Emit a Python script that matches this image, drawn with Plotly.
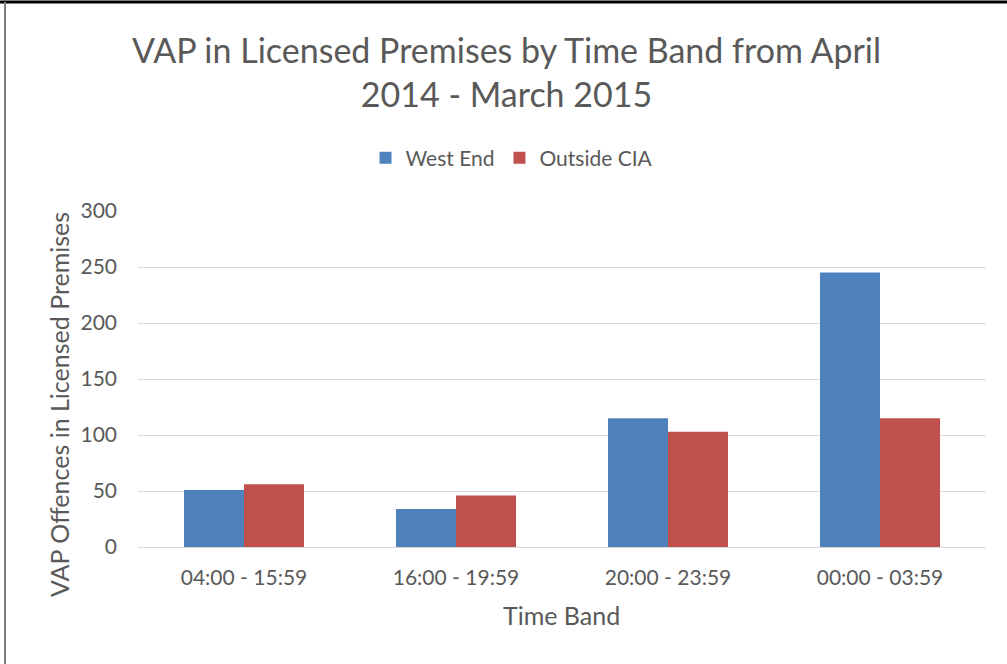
import plotly.graph_objects as go

categories = ["04:00 - 15:59", "16:00 - 19:59", "20:00 - 23:59", "00:00 - 03:59"]
west_end = [51, 34, 115, 245]
outside_cia = [56, 46, 103, 115]
y_ticks = [0, 50, 100, 150, 200, 250, 300]

W, H = 1007, 664
L, R, T, B = 138, 21, 211, 117
pw, ph = W - L - R, H - T - B

def px_x(p):
    return (p - L) / pw

def px_y(p):
    return (H - B - p) / ph

font = "Lato"
grey = "#595959"

fig = go.Figure()
fig.add_trace(go.Bar(name="West End", x=categories, y=west_end, marker=dict(color="#4F81BD", line=dict(width=0))))
fig.add_trace(go.Bar(name="Outside CIA", x=categories, y=outside_cia, marker=dict(color="#C0504D", line=dict(width=0))))

fig.update_layout(
    width=W, height=H,
    margin=dict(l=L, r=R, t=T, b=B, autoexpand=False),
    paper_bgcolor="white", plot_bgcolor="white",
    barmode="group", bargap=0.434, bargroupgap=0,
    font=dict(family=font, color=grey, size=21),
    title=dict(text="VAP in Licensed Premises by Time Band from April<br>2014 - March 2015",
               x=0.503, xref="container", xanchor="center",
               y=1 - 63 / H, yanchor="middle",
               font=dict(family=font, size=34, color=grey)),
    legend=dict(orientation="h", x=px_x(512), xanchor="center", y=px_y(158), yanchor="middle",
                font=dict(family=font, size=21, color=grey), traceorder="normal",
                itemwidth=30),
    xaxis=dict(showgrid=False, showline=True, linecolor="#D9D9D9", linewidth=1,
               ticks="", tickfont=dict(size=21, color=grey), ticklabelstandoff=12),
    yaxis=dict(range=[0, 300], tickvals=y_ticks, showgrid=True, gridcolor="#D9D9D9", gridwidth=1,
               zeroline=False, showline=False, ticks="", tickfont=dict(size=21, color=grey),
               ticklabelstandoff=20),
    showlegend=True,
)

fig.add_annotation(text="VAP Offences in Licensed Premises", textangle=-90,
                   xref="paper", yref="paper", x=px_x(59), y=px_y(405),
                   xanchor="center", yanchor="middle", showarrow=False,
                   font=dict(family=font, size=25, color=grey))
fig.add_annotation(text="Time Band", xref="paper", yref="paper", x=px_x(561), y=px_y(615),
                   xanchor="center", yanchor="middle", showarrow=False,
                   font=dict(family=font, size=25, color=grey))

# outer frame lines
fig.add_shape(type="line", xref="paper", yref="paper", x0=px_x(0), x1=px_x(W), y0=px_y(2), y1=px_y(2),
              line=dict(color="#000000", width=3))
fig.add_shape(type="line", xref="paper", yref="paper", x0=px_x(5), x1=px_x(5), y0=px_y(2), y1=px_y(H),
              line=dict(color="#808080", width=2))

fig.write_html("out.html", config={"displayModeBar": False},
               post_script="document.body.style.margin='0';document.body.style.overflow='hidden';")
